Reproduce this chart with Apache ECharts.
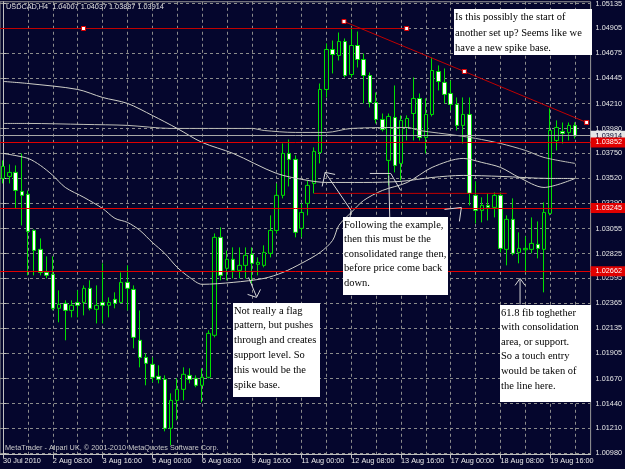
<!DOCTYPE html>
<html><head><meta charset="utf-8">
<script src="https://cdn.jsdelivr.net/npm/echarts@6/dist/echarts.min.js"></script>
<style>html,body{margin:0;padding:0;background:#05062d;}#c{width:625px;height:469px;}</style>
</head><body><div id="c"></div>
<script>
const symbolName = 'USDCAD,H4';
const xTickLabels = ['30 Jul 2010','2 Aug 08:00','3 Aug 16:00','5 Aug 00:00','6 Aug 08:00','9 Aug 16:00','11 Aug 00:00','12 Aug 08:00','13 Aug 16:00','17 Aug 00:00','18 Aug 08:00','19 Aug 16:00'];
const yTickLabels = ['1.05135','1.04905','1.04675','1.04445','1.04210','1.03980','1.03750','1.03520','1.03290','1.03055','1.02825','1.02595','1.02365','1.02135','1.01905','1.01670','1.01440','1.01210','1.00980'];

const opens = [1.03519,1.03538,1.03575,1.03399,1.03372,1.03039,1.02864,1.02651,1.02633,1.02319,1.02365,1.02300,1.02374,1.02374,1.02504,1.02310,1.02374,1.02347,1.02402,1.02374,1.02559,1.02494,1.02024,1.01866,1.01802,1.01691,1.01663,1.01211,1.01469,1.01571,1.01700,1.01673,1.01608,1.01682,1.02070,1.02975,1.02689,1.02772,1.02670,1.02716,1.02818,1.02726,1.02716,1.02827,1.03039,1.03363,1.03750,1.03695,1.03058,1.03289,1.03473,1.03759,1.04341,1.04710,1.04655,1.04784,1.04479,1.04747,1.04618,1.04470,1.04221,1.04064,1.03686,1.04082,1.03658,1.03990,1.04119,1.04258,1.03898,1.04110,1.04507,1.04406,1.04304,1.04203,1.04009,1.04110,1.03363,1.03224,1.03270,1.03252,1.03363,1.02864,1.03141,1.02836,1.02860,1.02864,1.02910,1.02864,1.03196,1.03870,1.03953,1.03944,1.04007];
const highs = [1.03686,1.03649,1.03639,1.03750,1.03408,1.03048,1.02965,1.02799,1.02799,1.02485,1.02393,1.02393,1.02485,1.02531,1.02578,1.02531,1.02735,1.02420,1.02467,1.02651,1.02716,1.02531,1.02300,1.01903,1.01866,1.01793,1.01700,1.01534,1.01673,1.01774,1.01765,1.01700,1.01765,1.02116,1.03011,1.03067,1.02854,1.02882,1.02882,1.02882,1.02882,1.02790,1.02901,1.03178,1.03473,1.03842,1.03879,1.03732,1.03289,1.03501,1.03806,1.04396,1.04766,1.04793,1.04867,1.04812,1.04913,1.04876,1.04673,1.04498,1.04313,1.04119,1.04119,1.04378,1.04101,1.04101,1.04452,1.04304,1.04258,1.04636,1.04563,1.04535,1.04424,1.04267,1.04267,1.04267,1.03492,1.03344,1.03381,1.03390,1.03390,1.03178,1.03335,1.03021,1.02984,1.03159,1.03122,1.03298,1.04166,1.04055,1.04036,1.04036,1.04037];
const lows = [1.03473,1.03473,1.03242,1.03085,1.02624,1.02624,1.02624,1.02596,1.02300,1.02190,1.02024,1.02236,1.02236,1.02254,1.02300,1.02180,1.02180,1.02236,1.02319,1.02365,1.02300,1.01950,1.01774,1.01608,1.01636,1.01626,1.01183,1.01054,1.01285,1.01469,1.01626,1.01590,1.01451,1.01673,1.02051,1.02578,1.02578,1.02596,1.02596,1.02596,1.02550,1.02624,1.02698,1.02790,1.03011,1.03335,1.03445,1.02975,1.02975,1.03178,1.03381,1.03658,1.04267,1.04489,1.04609,1.04452,1.04452,1.04544,1.04212,1.04175,1.04027,1.03953,1.03455,1.03575,1.03501,1.03870,1.03870,1.03870,1.03750,1.04092,1.04332,1.04212,1.04147,1.03962,1.03842,1.03270,1.03104,1.03113,1.03131,1.03159,1.02836,1.02716,1.02809,1.02735,1.02651,1.02827,1.02781,1.02467,1.03178,1.03778,1.03842,1.03870,1.03887];
const closes = [1.03630,1.03575,1.03408,1.03363,1.03030,1.02854,1.02651,1.02624,1.02319,1.02356,1.02300,1.02347,1.02347,1.02504,1.02319,1.02347,1.02347,1.02374,1.02365,1.02559,1.02504,1.02051,1.01866,1.01811,1.01682,1.01663,1.01211,1.01469,1.01571,1.01710,1.01663,1.01608,1.01682,1.02088,1.02975,1.02624,1.02772,1.02670,1.02716,1.02809,1.02735,1.02744,1.02836,1.03039,1.03363,1.03750,1.03695,1.03021,1.03205,1.03455,1.03769,1.04341,1.04710,1.04664,1.04784,1.04470,1.04747,1.04618,1.04470,1.04221,1.04064,1.03972,1.04092,1.03639,1.04055,1.04073,1.04258,1.03898,1.04110,1.04516,1.04415,1.04295,1.04203,1.04009,1.04110,1.03381,1.03224,1.03270,1.03252,1.03363,1.02873,1.03141,1.02827,1.02873,1.02873,1.02919,1.02873,1.03205,1.03962,1.03990,1.03935,1.04009,1.03914];

// moving averages: [bar index, price]
const maFast = [[0,1.03750],[4,1.03704],[6,1.03639],[8,1.03547],[10,1.03436],[13,1.03344],[16,1.03242],[18,1.03150],[20,1.03113],[22,1.03039],[24,1.02928],[26,1.02827],[28,1.02698],[30,1.02605],[32,1.02541],[37,1.02559],[42,1.02596],[45,1.02651],[48,1.02735],[51,1.02836],[53,1.02947],[54,1.03085],[56,1.03205],[58,1.03316],[61,1.03408],[65,1.03482],[69,1.03621],[74,1.03704],[77,1.03667],[80,1.03621],[83,1.03528],[87,1.03436],[92,1.03519]];
const maMid = [[0,1.04415],[4,1.04396],[12,1.04341],[16,1.04267],[20,1.04212],[24,1.04101],[28,1.03981],[32,1.03852],[37,1.03750],[44,1.03565],[49,1.03501],[52,1.03482],[58,1.03482],[64,1.03492],[69,1.03528],[74,1.03547],[80,1.03538],[88,1.03519],[92,1.03519]];
const maSlow = [[0,1.04027],[4,1.04027],[13,1.04018],[20,1.04009],[27,1.03981],[33,1.03981],[40,1.03981],[42,1.03962],[47,1.03944],[52,1.03944],[56,1.03981],[65,1.03990],[67,1.03962],[73,1.03916],[76,1.03889],[80,1.03842],[84,1.03778],[87,1.03713],[92,1.03658]];

// drawn objects
const levels = [1.03852, 1.03245, 1.02662];
const bidPrice = 1.03914;
const trendDown = [[54.83,1.04969],[74.19,1.04507],[93.86,1.04036]];
const trendFlat = [[-0.5,1.04904],[12.93,1.04904],[64.91,1.04904]];
const shortLevel = [[50,1.03381],[81,1.03381]];
const arrows = [
  [[53.40,1.03556],[51.80,1.03575],[55.96,1.03224],[55.8,1.03159]],
  [[51.80,1.03575],[51.32,1.03445]],
  [[58.99,1.03565],[62.35,1.03565],[63.95,1.03408]],
  [[62.03,1.03547],[62.19,1.03159]],
  [[70.99,1.03233],[73.71,1.03251],[73.39,1.03122]],
  [[39.48,1.02605],[40.76,1.02427]],
  [[39.32,1.02448],[40.76,1.02420],[41.40,1.02494]],
  [[83.15,1.02587],[83.15,1.02356]],
  [[82.35,1.02531],[83.15,1.02596],[83.95,1.02531]]
];
const note1 = ['Is this possibly the start of','another set up? Seems like we','have a new spike base.'];
const note2 = ['Following the example,','then this must be the','consolidated range then,','before price come back','down.'];
const note3 = ['Not really a flag','pattern, but pushes','through and creates','support level. So','this would be the','spike base.'];
const note4 = ['61.8 fib toghether','with consolidation','area, or support.','So a touch entry','would be taken of','the line here.'];
const watermark = 'MetaTrader - Alpari UK, \u00a9 2001-2010 MetaQuotes Software Corp.';

const BG = '#05062d';
const GREEN = '#00e000';
const nCats = 95;
const cats = Array.from({length: nCats}, (_, i) => String(i));
const candleData = opens.map((o, i) => [o, closes[i], lows[i], highs[i]]);
const xTickIdx = xTickLabels.map((_, k) => k * 8);
const xGridIdx = Array.from({length: 23}, (_, k) => (k + 1) * 4);
const yTickVals = yTickLabels.map(Number);
const last = opens.length - 1;
const titleText = symbolName + '  ' + [opens[last], highs[last], lows[last], closes[last]].map(v => v.toFixed(5)).join(' ');

const axisFont = {color: '#e8e8e8', fontSize: 7.3, fontFamily: 'Liberation Sans'};
const serif = 'Liberation Serif';

function noteBox(lines, x, y, w, h, lh) {
  return [
    {type: 'rect', shape: {x: x, y: y, width: w, height: h}, style: {fill: '#ffffff'}, z: 100},
    {type: 'text', x: x + 1, y: y + 0.5, z: 101,
     style: {text: lines.join('\n'), fontFamily: serif, fontSize: 10.5, fill: '#000000', lineHeight: lh, verticalAlign: 'top', align: 'left'}}
  ];
}

const levelLabel = (bg, fg) => ({show: true, position: 'end', distance: 0, formatter: p => Number(p.value).toFixed(5),
  backgroundColor: bg, color: fg, fontSize: 7.3, fontFamily: 'Liberation Sans', padding: [1, 4, 1, 5], lineHeight: 8});

const series = [
  {type: 'candlestick', xAxisIndex: 0, yAxisIndex: 0, data: candleData, barWidth: 4, z: 2,
   itemStyle: {color: BG, color0: '#ffffff', borderColor: GREEN, borderColor0: GREEN, borderWidth: 1},
   markLine: {silent: true, symbol: ['none', 'none'], animation: false, precision: 5, z: 4,
     data: [
       {yAxis: bidPrice, lineStyle: {color: '#a8a8a8', width: 1, type: 'solid'}, label: levelLabel('#e6e6e6', '#05062d')},
       ...levels.map(v => ({yAxis: v, lineStyle: {color: '#e00000', width: 1, type: 'solid'}, label: levelLabel('#e00000', '#ffffff')}))
     ]}},
  {type: 'line', xAxisIndex: 1, data: maSlow, smooth: 0.3, symbol: 'none', lineStyle: {color: '#bdbdb6', width: 1}, z: 3},
  {type: 'line', xAxisIndex: 1, data: maMid, smooth: 0.3, symbol: 'none', lineStyle: {color: '#cfcfc8', width: 1}, z: 3},
  {type: 'line', xAxisIndex: 1, data: maFast, smooth: 0.3, symbol: 'none', lineStyle: {color: '#cfcfc8', width: 1}, z: 3},
  {type: 'line', xAxisIndex: 1, data: shortLevel, symbol: 'none', lineStyle: {color: '#c00000', width: 1}, z: 3},
  {type: 'line', xAxisIndex: 1, data: trendDown, symbol: 'rect', symbolSize: 4, showAllSymbol: true,
   itemStyle: {color: '#ffffff', borderColor: '#e00000', borderWidth: 1}, lineStyle: {color: '#c00000', width: 1}, z: 5},
  {type: 'line', xAxisIndex: 1, symbol: 'none', showAllSymbol: true,
   data: trendFlat.map((p, i) => i === 0 ? {value: p} : {value: p, symbol: 'rect', symbolSize: 4}),
   itemStyle: {color: '#ffffff', borderColor: '#e00000', borderWidth: 1}, lineStyle: {color: '#c00000', width: 1}, z: 5},
  ...arrows.map(a => ({type: 'line', xAxisIndex: 1, data: a, symbol: 'none', lineStyle: {color: '#d8d8d8', width: 1}, z: 6}))
];

const chart = echarts.init(document.getElementById('c'), null, {renderer: 'canvas', devicePixelRatio: 1});
chart.setOption({
  animation: false,
  backgroundColor: BG,
  title: {text: titleText, left: 6, top: 3, padding: 0,
    textStyle: {color: '#e0e0e0', fontSize: 7.3, fontFamily: 'Liberation Sans', fontWeight: 'normal'}},
  grid: {left: 0, top: 1, width: 594, height: 453.5, show: true, borderColor: '#9a9a9a', borderWidth: 1, backgroundColor: BG, containLabel: false},
  xAxis: [
    {type: 'category', data: cats, boundaryGap: true, show: false},
    {type: 'value', min: -0.5, max: 94.5, position: 'bottom',
     axisLine: {show: true, lineStyle: {color: '#c0c0c0', width: 1}},
     axisTick: {show: true, customValues: xTickIdx, length: 4, inside: false, lineStyle: {color: '#c0c0c0'}},
     axisLabel: {show: true, customValues: xTickIdx, align: 'left', margin: 3, formatter: v => xTickLabels[Math.round(v / 8)], ...axisFont},
     splitLine: {show: false}},
    {type: 'value', min: -0.5, max: 94.5, position: 'bottom',
     axisLine: {show: false}, axisLabel: {show: false},
     axisTick: {show: false, customValues: xGridIdx},
     splitLine: {show: true, lineStyle: {color: '#8c8c8c', width: 1, type: [3, 3]}}}
  ],
  yAxis: [
    {type: 'value', min: 1.00969, max: 1.05151, position: 'right', scale: true,
     axisLine: {show: true, lineStyle: {color: '#c0c0c0', width: 1}},
     axisTick: {show: true, customValues: yTickVals, length: 3, inside: false, lineStyle: {color: '#c0c0c0'}},
     axisLabel: {show: true, customValues: yTickVals, margin: 5, formatter: v => v.toFixed(5), ...axisFont},
     splitLine: {show: true, lineStyle: {color: '#8c8c8c', width: 1, type: [3, 3]}}}
  ],
  graphic: [
    {type: 'text', x: 5, y: 448, z: 50, style: {text: watermark, fontFamily: 'Liberation Sans', fontSize: 7.3, fill: '#c8c8c8', verticalAlign: 'middle'}},
    ...noteBox(note1, 454, 9, 138, 46, 15.5),
    ...noteBox(note2, 343, 217, 105, 78, 14.5),
    ...noteBox(note3, 233, 303, 87, 94, 14.8),
    ...noteBox(note4, 500, 305, 91, 97, 14.6)
  ],
  series: series
});
</script>
</body></html>
